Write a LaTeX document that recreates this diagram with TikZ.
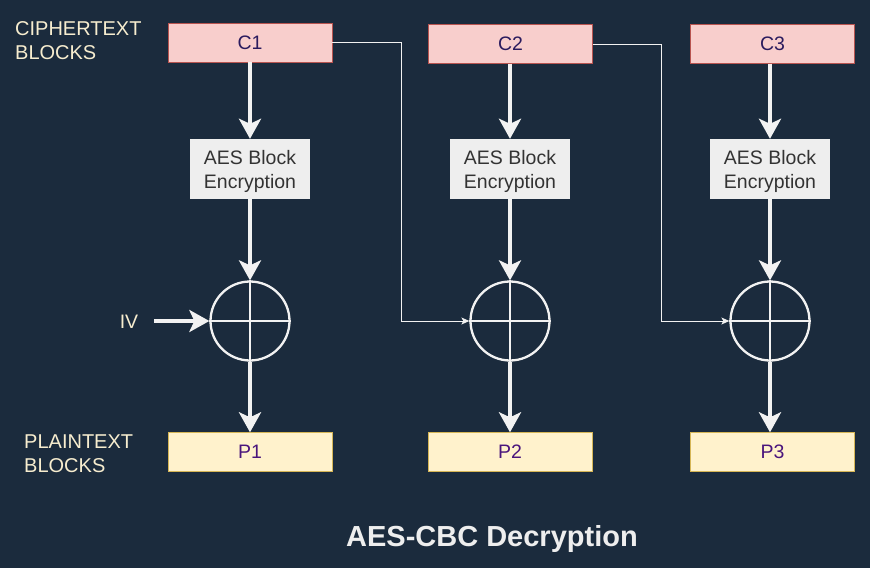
\documentclass[tikz,border=0pt]{standalone}
\usepackage{fontspec}
\setmainfont{Liberation Sans}
\usepackage{tikz}
\usetikzlibrary{arrows.meta,positioning,calc}
\definecolor{bg}{HTML}{1B2B3D}
\definecolor{cipherfill}{HTML}{F8CECC}
\definecolor{cipherline}{HTML}{B85450}
\definecolor{cipherink}{HTML}{2B1B5E}
\definecolor{plainfill}{HTML}{FFF2CC}
\definecolor{plainline}{HTML}{D6B656}
\definecolor{plainink}{HTML}{4A157C}
\definecolor{aesfill}{HTML}{EEEEEE}
\definecolor{aesink}{HTML}{333333}
\definecolor{cream}{HTML}{F7EDCF}
\definecolor{wire}{HTML}{F2F2F2}
\begin{document}
\begin{tikzpicture}[x=1pt,y=-1pt,
  cblock/.style={draw=cipherline,fill=cipherfill,minimum width=164pt,minimum height=39pt,inner sep=0pt,font=\fontsize{19.5}{23}\selectfont\color{cipherink}},
  pblock/.style={draw=plainline,fill=plainfill,minimum width=164pt,minimum height=39pt,inner sep=0pt,text depth=-3pt,font=\fontsize{19.5}{23}\selectfont\color{plainink}},
  aes/.style={fill=aesfill,minimum width=120pt,minimum height=60pt,inner sep=0pt,align=center,text depth=-3pt,font=\fontsize{19.5}{24}\selectfont\color{aesink}},
  xor/.style={circle,draw=wire,line width=2.3pt,minimum size=79pt,inner sep=0pt},
  lbl/.style={align=left,anchor=west,inner sep=0pt,font=\fontsize{20}{24}\selectfont\color{cream}},
  arr/.style={-{Stealth[length=20pt,width=22pt,inset=5pt]},color=wire,line width=4pt},
  feed/.style={-{Stealth[length=8pt,width=7pt,inset=2pt]},color=wire,line width=0.9pt}]
  \fill[bg] (0,0) rectangle (870,568);
  \useasboundingbox (0,0) rectangle (870,568);
  % ciphertext row
  \node[cblock] (c1) at (250,42.5) {C1};
  \node[cblock] (c2) at (510.5,44) {C2};
  \node[cblock] (c3) at (772.5,44) {C3};
  \node[lbl] (ctxt) at (15,41) {CIPHERTEXT\\BLOCKS};
  % block cipher
  \node[aes] (aes1) at (250,169) {AES Block\\Encryption};
  \node[aes] (aes2) at (510,169) {AES Block\\Encryption};
  \node[aes] (aes3) at (770,169) {AES Block\\Encryption};
  % xor
  \node[xor] (x1) at (250,321) {};
  \node[xor] (x2) at (510,321) {};
  \node[xor] (x3) at (770,321) {};
  \foreach \x in {x1,x2,x3}{
    \draw[wire,line width=2.3pt] (\x.north) -- (\x.south);
    \draw[wire,line width=2.3pt] (\x.west) -- (\x.east);
  }
  % plaintext row
  \node[pblock] (p1) at (250,452) {P1};
  \node[pblock] (p2) at (510,452) {P2};
  \node[pblock] (p3) at (772.5,452) {P3};
  \node[lbl] (ptxt) at (24,454) {PLAINTEXT\\BLOCKS};
  \node[font=\fontsize{19.5}{23}\selectfont\color{cream}] (iv) at (129,322) {IV};
  \coordinate (ivs) at (154,321);
  \draw[arr] (c1.south) -- (aes1.north); \draw[arr] (aes1.south) -- (x1.north); \draw[arr] (x1.south) -- (p1.north);
  \draw[arr] (c2.south-|aes2.north) -- (aes2.north); \draw[arr] (aes2.south) -- (x2.north); \draw[arr] (x2.south) -- (p2.north-|x2.south);
  \draw[arr] (c3.south-|aes3.north) -- (aes3.north); \draw[arr] (aes3.south) -- (x3.north); \draw[arr] (x3.south) -- (p3.north-|x3.south);
  \draw[arr] (ivs) -- (x1.west);
  % chaining
  \draw[feed] (c1.east) -- ++(69,0) |- (x2.west);
  \draw[feed] (c2.east) -- ++(69,0) |- (x3.west);
  \node[font=\fontsize{29}{34}\selectfont\bfseries\color{aesfill}] (title) at (492,539) {AES-CBC Decryption};
\end{tikzpicture}
\end{document}
